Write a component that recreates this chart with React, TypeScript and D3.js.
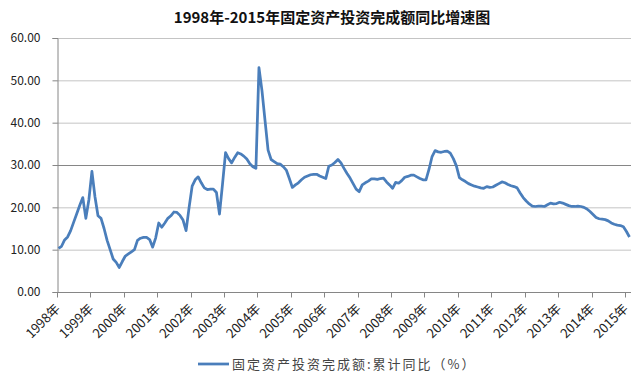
import React, { useEffect, useRef } from "react";
import * as d3 from "d3";

// 固定资产投资完成额:累计同比 (%), 每年 2-12 月
const years = ["1998年", "1999年", "2000年", "2001年", "2002年", "2003年", "2004年", "2005年", "2006年",
  "2007年", "2008年", "2009年", "2010年", "2011年", "2012年", "2013年", "2014年", "2015年"];
const v1998 = [10.3, 10.8, 12.3, 13.0, 14.5, 16.5, 18.5, 20.5, 22.3, 17.4, 21.8];
const v1999 = [28.5, 22.5, 18.0, 17.4, 15.0, 12.2, 10.0, 7.8, 7.0, 5.8, 7.2];
const v2000 = [8.5, 9.0, 9.5, 10.0, 12.2, 12.7, 12.9, 12.9, 12.4, 10.6, 12.8];
const v2001 = [16.3, 15.3, 16.3, 17.4, 18.0, 18.9, 18.8, 18.1, 17.0, 14.5, 20.0];
const v2002 = [25.0, 26.5, 27.2, 25.8, 24.6, 24.2, 24.3, 24.3, 23.5, 18.4, 25.5];
const v2003 = [32.9, 31.5, 30.5, 31.8, 32.9, 32.6, 32.1, 31.4, 30.3, 29.6, 29.2];
const v2004 = [53.0, 47.5, 40.5, 33.5, 31.3, 30.8, 30.3, 30.2, 29.6, 28.8, 26.8];
const v2005 = [24.7, 25.3, 25.8, 26.5, 27.1, 27.4, 27.7, 27.8, 27.8, 27.4, 27.1];
const v2006 = [26.8, 29.7, 30.0, 30.6, 31.3, 30.5, 29.2, 28.0, 26.9, 25.6, 24.3];
const v2007 = [23.7, 25.3, 25.8, 26.2, 26.7, 26.7, 26.6, 26.8, 26.9, 26.0, 25.3];
const v2008 = [24.5, 25.9, 25.7, 26.3, 27.1, 27.3, 27.6, 27.6, 27.2, 26.8, 26.5];
const v2009 = [26.5, 29.0, 32.0, 33.4, 33.1, 33.0, 33.2, 33.3, 32.8, 31.5, 29.8];
const v2010 = [27.0, 26.5, 26.1, 25.6, 25.3, 25.0, 24.8, 24.6, 24.5, 24.9, 24.7];
const v2011 = [24.8, 25.2, 25.6, 26.0, 25.8, 25.4, 25.1, 24.9, 24.6, 23.4, 22.3];
const v2012 = [21.5, 20.8, 20.3, 20.2, 20.3, 20.3, 20.2, 20.6, 21.0, 20.8, 20.9];
const v2013 = [21.2, 21.0, 20.7, 20.4, 20.2, 20.2, 20.3, 20.2, 20.0, 19.6, 19.0];
const v2014 = [18.3, 17.6, 17.3, 17.2, 17.1, 16.8, 16.3, 16.0, 15.8, 15.7, 15.4];
const v2015 = [14.3, 13.0];
const yTicks = [0, 10, 20, 30, 40, 50, 60];

const series = [v1998, v1999, v2000, v2001, v2002, v2003, v2004, v2005, v2006,
  v2007, v2008, v2009, v2010, v2011, v2012, v2013, v2014, v2015].flat();

const W = 632, H = 388;
const cjk = "'Noto Sans CJK SC', 'Noto Sans', sans-serif";

const App = () => {
  const ref = useRef<SVGSVGElement>(null);

  useEffect(() => {
    const svg = d3.select(ref.current);
    svg.selectAll("*").remove();

    const margin = { top: 38, right: 1, bottom: 96, left: 57 };
    const perYear = 11;

    const x = d3.scaleLinear()
      .domain([0, series.length])
      .range([margin.left, W - margin.right]);
    const y = d3.scaleLinear()
      .domain([0, 60])
      .range([H - margin.bottom, margin.top]);

    // gridlines
    svg.append("g")
      .selectAll("line")
      .data(yTicks.filter((d) => d > 0))
      .join("line")
      .attr("x1", margin.left)
      .attr("x2", W - margin.right)
      .attr("y1", (d) => y(d) + 0.5)
      .attr("y2", (d) => y(d) + 0.5)
      .attr("stroke", (d) => (d === 30 ? "#868686" : "#c4c4c4"))
      .attr("stroke-width", 1);

    // y axis
    const yAxis = svg.append("g").attr("transform", `translate(${margin.left + 0.5},0)`)
      .call(d3.axisLeft(y).tickValues(yTicks).tickSize(5).tickPadding(12).tickFormat(d3.format(".2f")));
    yAxis.select(".domain").attr("stroke", "#868686");
    yAxis.selectAll(".tick line").attr("stroke", "#868686");
    yAxis.selectAll(".tick text")
      .attr("fill", "#222")
      .style("font-size", "12px")
      .style("font-family", cjk);

    // x axis
    const yearIdx = years.map((_, i) => i * perYear);
    const xAxis = svg.append("g").attr("transform", `translate(0,${y(0) + 0.5})`);
    xAxis.append("line")
      .attr("x1", margin.left).attr("x2", W - margin.right)
      .attr("stroke", "#868686");
    xAxis.selectAll("line.tk")
      .data(yearIdx)
      .join("line")
      .attr("class", "tk")
      .attr("x1", (d) => Math.round(x(d)) + 0.5)
      .attr("x2", (d) => Math.round(x(d)) + 0.5)
      .attr("y1", 0).attr("y2", 5)
      .attr("stroke", "#868686");
    xAxis.selectAll("text")
      .data(years)
      .join("text")
      .attr("transform", (_, i) => `translate(${x(yearIdx[i]) + 4},${17}) rotate(-45)`)
      .attr("text-anchor", "end")
      .attr("fill", "#222")
      .style("font-size", "13px")
      .style("font-family", cjk)
      .text((d) => d);

    // line
    const line = d3.line<number>()
      .x((_, i) => x(i + 0.5))
      .y((d) => y(d));
    svg.append("path")
      .datum(series)
      .attr("fill", "none")
      .attr("stroke", "#4a7ebb")
      .attr("stroke-width", 2.75)
      .attr("stroke-linejoin", "round")
      .attr("d", line);

    // title
    svg.append("text")
      .attr("x", 332).attr("y", 23)
      .attr("text-anchor", "middle")
      .attr("fill", "#111")
      .style("font-size", "15px")
      .style("font-weight", "bold")
      .style("font-family", cjk)
      .text("1998年-2015年固定资产投资完成额同比增速图");

    // legend
    const lg = svg.append("g").attr("transform", "translate(198,364)");
    lg.append("line").attr("x1", 0).attr("x2", 31)
      .attr("stroke", "#4a7ebb").attr("stroke-width", 2.75);
    lg.append("text")
      .attr("x", 34).attr("y", 0).attr("dy", "0.35em")
      .attr("fill", "#444")
      .style("font-size", "13px")
      .style("letter-spacing", "2px")
      .style("font-family", cjk)
      .text("固定资产投资完成额:累计同比（%）");
  }, []);

  return (
    <svg ref={ref} width={W} height={H}
      style={{ position: "absolute", left: 0, top: 0, background: "#fff" }} />
  );
};

export default App;
